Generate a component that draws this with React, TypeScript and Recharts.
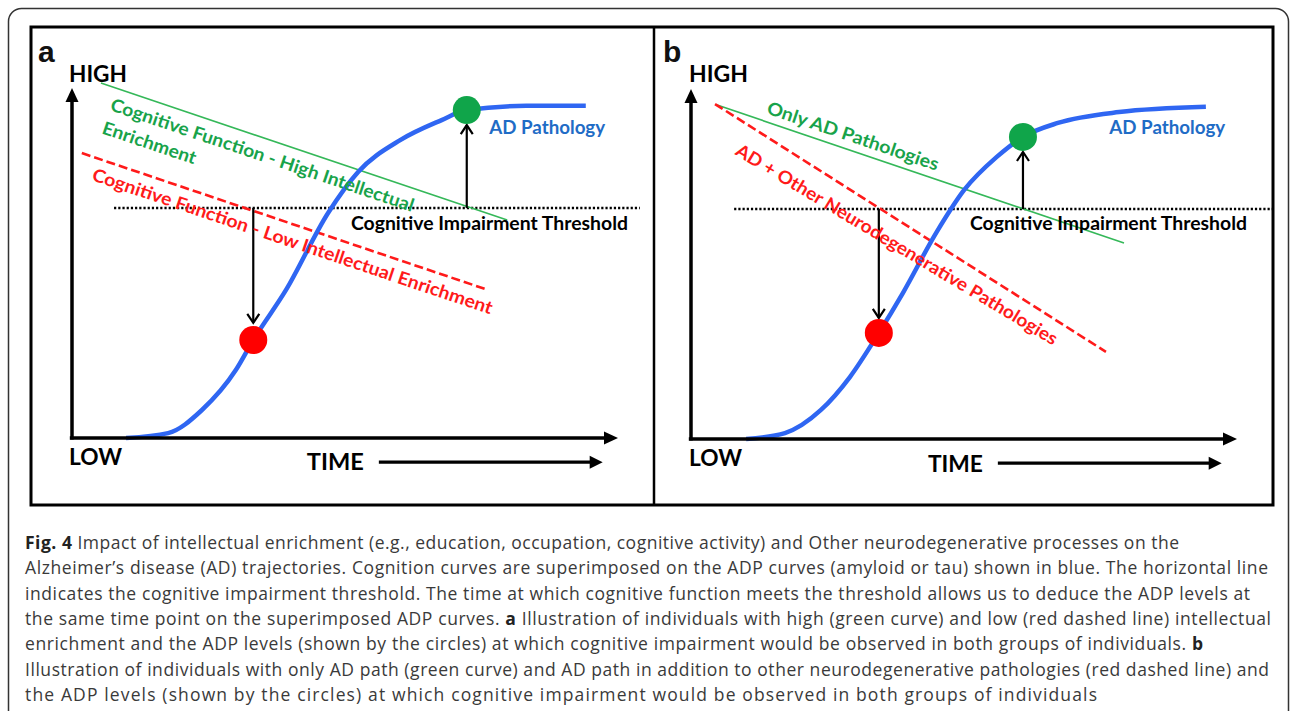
import React from 'react';
import { ComposedChart, XAxis, YAxis, Line, ReferenceLine, ReferenceDot } from 'recharts';

// ---------- DATA (time units 0–100 along TIME axis, level units 0–100 along vertical axis) ----------
type Pt = { t: number; L: number };

// Panel a
const adPathologyA: Pt[] = [
  { t: 9.9, L: 0 }, { t: 17.6, L: 1.4 }, { t: 23.8, L: 8.0 }, { t: 30.0, L: 19.4 },
  { t: 33.2, L: 28.0 }, { t: 39.2, L: 42.3 }, { t: 46.9, L: 64.3 }, { t: 52.4, L: 76.0 },
  { t: 60.1, L: 85.1 }, { t: 67.8, L: 90.9 }, { t: 72.2, L: 93.7 }, { t: 83.2, L: 94.9 },
  { t: 94.1, L: 94.9 },
];
const highEnrichmentA: Pt[] = [{ t: 5.3, L: 101.4 }, { t: 79.7, L: 62.3 }];
const lowEnrichmentA: Pt[] = [{ t: 1.8, L: 81.4 }, { t: 76.2, L: 42.3 }];
const thresholdA: Pt[] = [{ t: 7.7, L: 65.7 }, { t: 104.0, L: 65.7 }];
const lowDotA: Pt = { t: 33.2, L: 28.0 };
const highDotA: Pt = { t: 72.3, L: 93.7 };
const downArrowA: Pt[] = [{ t: 33.2, L: 65.7 }, { t: 33.2, L: 32.9 }];
const upArrowA: Pt[] = [{ t: 72.3, L: 65.7 }, { t: 72.3, L: 89.4 }];

// Panel b
const adPathologyB: Pt[] = [
  { t: 10.1, L: 0 }, { t: 17.2, L: 1.7 }, { t: 23.8, L: 8.3 }, { t: 29.1, L: 17.7 },
  { t: 34.4, L: 30.3 }, { t: 38.8, L: 41.7 }, { t: 44.9, L: 58.9 }, { t: 50.0, L: 71.1 },
  { t: 56.0, L: 80.6 }, { t: 60.8, L: 86.3 }, { t: 67.2, L: 90.3 }, { t: 78.4, L: 93.4 },
  { t: 94.3, L: 94.9 },
];
const onlyADB: Pt[] = [{ t: 4.8, L: 95.4 }, { t: 79.3, L: 56.0 }];
const mixedB: Pt[] = [{ t: 4.4, L: 95.7 }, { t: 76.0, L: 24.9 }];
const thresholdB: Pt[] = [{ t: 7.9, L: 65.7 }, { t: 106.6, L: 65.7 }];
const lowDotB: Pt = { t: 34.4, L: 30.3 };
const highDotB: Pt = { t: 60.8, L: 86.3 };
const downArrowB: Pt[] = [{ t: 34.4, L: 65.7 }, { t: 34.4, L: 34.6 }];
const upArrowB: Pt[] = [{ t: 60.8, L: 65.7 }, { t: 60.8, L: 82.0 }];

// Axes (shared)
const yAxisSeg: Pt[] = [{ t: 0, L: -0.4 }, { t: 0, L: 100 }];
const xAxisSeg: Pt[] = [{ t: -0.4, L: 0 }, { t: 100, L: 0 }];
const timeArrow: Pt[] = [{ t: 56.2, L: -6.9 }, { t: 97.2, L: -6.9 }];

// Texts
const labelsA = {
  high: 'HIGH', low: 'LOW', time: 'TIME', threshold: 'Cognitive Impairment Threshold', ad: 'AD Pathology',
  upper1: 'Cognitive Function - High Intellectual', upper2: 'Enrichment',
  lower: 'Cognitive Function - Low Intellectual Enrichment',
};
const labelsB = {
  high: 'HIGH', low: 'LOW', time: 'TIME', threshold: 'Cognitive Impairment Threshold', ad: 'AD Pathology',
  upper1: 'Only AD Pathologies', upper2: '',
  lower: 'AD + Other Neurodegenerative Pathologies',
};
const panelLetters = ['a', 'b'];

type Seg = string | { b: string };
const captionLines: Seg[][] = [
  [{ b: 'Fig. 4' }, ' Impact of intellectual enrichment (e.g., education, occupation, cognitive activity) and Other neurodegenerative processes on the'],
  ['Alzheimer\u2019s disease (AD) trajectories. Cognition curves are superimposed on the ADP curves (amyloid or tau) shown in blue. The horizontal line'],
  ['indicates the cognitive impairment threshold. The time at which cognitive function meets the threshold allows us to deduce the ADP levels at'],
  ['the same time point on the superimposed ADP curves. ', { b: 'a' }, ' Illustration of individuals with high (green curve) and low (red dashed line) intellectual'],
  ['enrichment and the ADP levels (shown by the circles) at which cognitive impairment would be observed in both groups of individuals. ', { b: 'b' }],
  ['Illustration of individuals with only AD path (green curve) and AD path in addition to other neurodegenerative pathologies (red dashed line) and'],
  ['the ADP levels (shown by the circles) at which cognitive impairment would be observed in both groups of individuals'],
];

// ---------- LAYOUT / STYLE ----------
const SX = 5.46; // px per time unit
const SY = 3.5; // px per level unit
const BLUE = '#2f66f2';
const BLUE_TEXT = '#1f6cc6';
const GREEN_LINE = '#35b859';
const GREEN_TEXT = '#18a34a';
const GREEN_DOT = '#10a54a';
const RED = '#ff1a1a';
const RED_DOT = '#ff0000';
const LABEL_FONT = 'Lato, "Open Sans", sans-serif';

const captionWidths = [1154, 1243, 1225, 1246, 1178, 1244, 1072];

type TextPos = { t: number; L: number; size: number; width: number; color: string; angle?: number; weight?: number };

const layoutA = {
  box: { left: 31, top: 27, width: 623, height: 478 },
  origin: { x: 72, y: 438 },
  text: {
    high: { t: -0.55, L: 101.7, size: 23, width: 58, color: '#000' },
    low: { t: -0.55, L: -7.7, size: 23, width: 53, color: '#000' },
    time: { t: 43.0, L: -9.1, size: 23, width: 57, color: '#000' },
    threshold: { t: 51.1, L: 59.4, size: 18, width: 277, color: '#000' },
    ad: { t: 76.4, L: 86.9, size: 18, width: 116, color: BLUE_TEXT },
    upper1: { t: 6.8, L: 93.7, size: 18, width: 319, color: GREEN_TEXT, angle: 18.6 },
    upper2: { t: 5.3, L: 87.1, size: 18, width: 98, color: GREEN_TEXT, angle: 18.6 },
    lower: { t: 3.5, L: 73.7, size: 18, width: 421, color: RED, angle: 18.6 },
  } as Record<string, TextPos>,
};
const layoutB = {
  box: { left: 654, top: 27, width: 619, height: 478 },
  origin: { x: 691, y: 439 },
  text: {
    high: { t: -0.37, L: 102.0, size: 23, width: 59, color: '#000' },
    low: { t: -0.37, L: -7.7, size: 23, width: 53, color: '#000' },
    time: { t: 43.4, L: -9.4, size: 23, width: 55, color: '#000' },
    threshold: { t: 51.1, L: 59.7, size: 18, width: 277, color: '#000' },
    ad: { t: 76.6, L: 87.1, size: 18, width: 116, color: BLUE_TEXT },
    upper1: { t: 13.7, L: 93.1, size: 18, width: 180, color: GREEN_TEXT, angle: 18.7 },
    upper2: { t: 0, L: 0, size: 18, width: 0, color: GREEN_TEXT },
    lower: { t: 7.9, L: 81.4, size: 18, width: 372, color: RED, angle: 31 },
  } as Record<string, TextPos>,
};

// ---------- SHAPES ----------
const arrowShape = (kind: 'fill' | 'open', w: number, headLen: number, headW: number) => (p: any) => {
  const { x1, y1, x2, y2 } = p;
  if ([x1, y1, x2, y2].some((v) => typeof v !== 'number' || isNaN(v))) return <g />;
  const dx = x2 - x1, dy = y2 - y1;
  const len = Math.hypot(dx, dy) || 1;
  const ux = dx / len, uy = dy / len;
  const nx = -uy, ny = ux;
  const bx = x2 - ux * headLen, by = y2 - uy * headLen;
  if (kind === 'fill') {
    return (
      <g>
        <line x1={x1} y1={y1} x2={bx + ux} y2={by + uy} stroke="#000" strokeWidth={w} strokeLinecap="butt" />
        <path d={`M${x2},${y2} L${bx + nx * headW},${by + ny * headW} L${bx - nx * headW},${by - ny * headW} Z`} fill="#000" />
      </g>
    );
  }
  return (
    <g>
      <line x1={x1} y1={y1} x2={x2} y2={y2} stroke="#000" strokeWidth={w} />
      <path d={`M${bx + nx * headW},${by + ny * headW} L${x2},${y2} L${bx - nx * headW},${by - ny * headW}`} fill="none" stroke="#000" strokeWidth={w} strokeLinejoin="miter" />
    </g>
  );
};

const textShape = (label: string, pos: TextPos) => (p: any) => {
  const { cx, cy } = p;
  if (typeof cx !== 'number' || typeof cy !== 'number') return <g />;
  return (
    <text
      x={cx}
      y={cy}
      transform={pos.angle ? `rotate(${pos.angle} ${cx} ${cy})` : undefined}
      fill={pos.color}
      fontFamily={LABEL_FONT}
      fontWeight={pos.weight ?? 700}
      fontSize={pos.size}
      textLength={pos.width}
      lengthAdjust="spacingAndGlyphs"
    >
      {label}
    </text>
  );
};

type PanelProps = {
  layout: typeof layoutA;
  curve: Pt[];
  upper: Pt[];
  lower: Pt[];
  threshold: Pt[];
  lowDot: Pt;
  highDot: Pt;
  downArrow: Pt[];
  upArrow: Pt[];
  labels: Record<string, string>;
};

function Panel({ layout, curve, upper, lower, threshold, lowDot, highDot, downArrow, upArrow, labels }: PanelProps) {
  const { box, origin } = layout;
  const xDomain: [number, number] = [(box.left - origin.x) / SX, (box.left + box.width - origin.x) / SX];
  const yDomain: [number, number] = [(origin.y - box.top - box.height) / SY, (origin.y - box.top) / SY];
  const seg = (s: Pt[]) => s.map((q) => ({ x: q.t, y: q.L }));
  return (
    <div style={{ position: 'absolute', left: box.left, top: box.top, width: box.width, height: box.height }}>
      <ComposedChart width={box.width} height={box.height} margin={{ top: 0, right: 0, bottom: 0, left: 0 }}>
        <XAxis type="number" dataKey="t" domain={xDomain} hide allowDataOverflow />
        <YAxis type="number" dataKey="L" domain={yDomain} hide allowDataOverflow />

        <Line data={threshold} dataKey="L" type="linear" stroke="#000" strokeWidth={2.4} strokeDasharray="2.2 2" dot={false} activeDot={false} isAnimationActive={false} />
        <Line data={upper} dataKey="L" type="linear" stroke={GREEN_LINE} strokeWidth={1.6} dot={false} activeDot={false} isAnimationActive={false} />
        <Line data={lower} dataKey="L" type="linear" stroke={RED} strokeWidth={2.6} strokeDasharray="9 4" dot={false} activeDot={false} isAnimationActive={false} />
        <Line data={curve} dataKey="L" type="monotone" stroke={BLUE} strokeWidth={4.5} dot={false} activeDot={false} isAnimationActive={false} />

        <ReferenceLine segment={seg(yAxisSeg)} ifOverflow="visible" shape={arrowShape('fill', 3.5, 14, 6.5)} />
        <ReferenceLine segment={seg(xAxisSeg)} ifOverflow="visible" shape={arrowShape('fill', 3.5, 14, 6.5)} />
        <ReferenceLine segment={seg(timeArrow)} ifOverflow="visible" shape={arrowShape('fill', 3.2, 13, 6.5)} />
        <ReferenceLine segment={seg(downArrow)} ifOverflow="visible" shape={arrowShape('open', 2.2, 9, 6)} />
        <ReferenceLine segment={seg(upArrow)} ifOverflow="visible" shape={arrowShape('open', 2.2, 9, 6)} />

        <ReferenceDot x={lowDot.t} y={lowDot.L} r={14} fill={RED_DOT} stroke="none" ifOverflow="visible" />
        <ReferenceDot x={highDot.t} y={highDot.L} r={14} fill={GREEN_DOT} stroke="none" ifOverflow="visible" />

        {Object.keys(layout.text)
          .filter((k) => labels[k])
          .map((k) => {
            const pos = layout.text[k];
            return <ReferenceDot key={k} x={pos.t} y={pos.L} r={1} ifOverflow="visible" shape={textShape(labels[k], pos)} />;
          })}
      </ComposedChart>
    </div>
  );
}

export default function App() {
  return (
    <div style={{ position: 'absolute', left: 0, top: 0, width: 1290, height: 711, background: '#fff', overflow: 'hidden' }}>
      <Panel layout={layoutA} curve={adPathologyA} upper={highEnrichmentA} lower={lowEnrichmentA} threshold={thresholdA}
        lowDot={lowDotA} highDot={highDotA} downArrow={downArrowA} upArrow={upArrowA} labels={labelsA} />
      <Panel layout={layoutB} curve={adPathologyB} upper={onlyADB} lower={mixedB} threshold={thresholdB}
        lowDot={lowDotB} highDot={highDotB} downArrow={downArrowB} upArrow={upArrowB} labels={labelsB} />
      <svg width={1290} height={711} style={{ position: 'absolute', left: 0, top: 0, pointerEvents: 'none' }}>
        <rect x={8.5} y={8.5} width={1280} height={730} rx={13} ry={13} fill="none" stroke="#333" strokeWidth={1.5} />
        <rect x={31} y={27} width={1242} height={478} fill="none" stroke="#000" strokeWidth={3} />
        <line x1={654} y1={27} x2={654} y2={505} stroke="#000" strokeWidth={2.5} />
        <text x={38} y={62} fontFamily='"Liberation Sans", Arial, sans-serif' fontWeight={700} fontSize={30} fill="#111">{panelLetters[0]}</text>
        <text x={663} y={62} fontFamily='"Liberation Sans", Arial, sans-serif' fontWeight={700} fontSize={30} fill="#111">{panelLetters[1]}</text>
        {captionLines.map((segs, i) => (
          <text key={i} x={25} y={549 + i * 25.3} fontFamily='"Open Sans", "Noto Sans", sans-serif' fontSize={17.5} fill="#3a3a3a"
            textLength={captionWidths[i]} lengthAdjust="spacing" style={{ whiteSpace: 'pre' }}>
            {segs.map((s, j) =>
              typeof s === 'string' ? <tspan key={j}>{s}</tspan> : <tspan key={j} fontWeight={700} fill="#222">{s.b}</tspan>
            )}
          </text>
        ))}
      </svg>
    </div>
  );
}
